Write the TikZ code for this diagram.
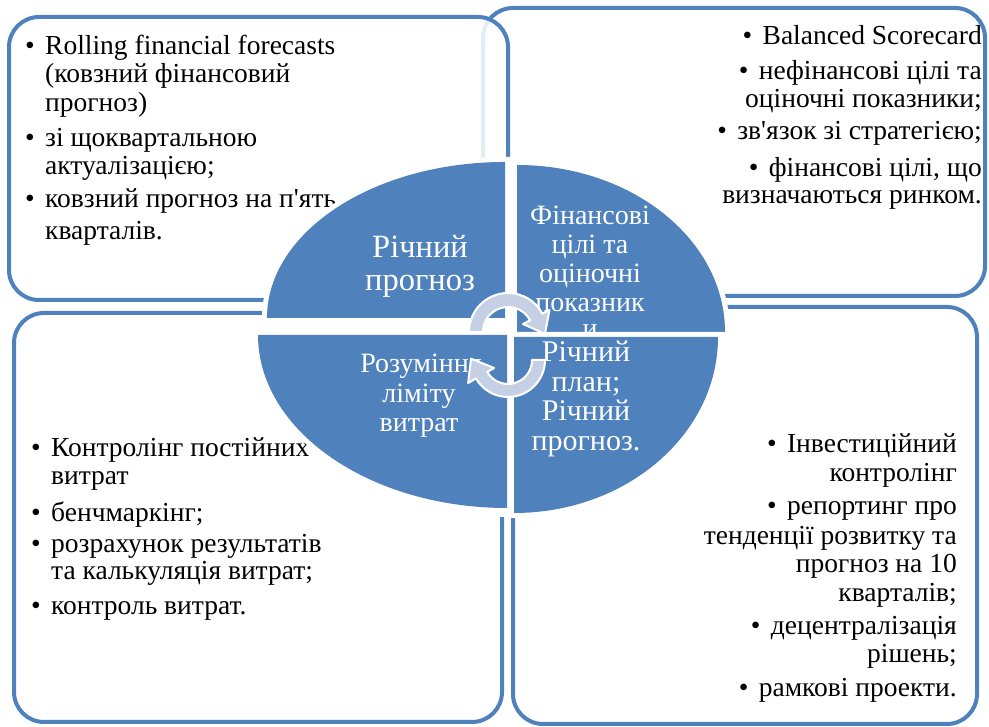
\documentclass[tikz,border=0pt]{standalone}
\usepackage{fontspec}
\setmainfont{Liberation Serif}
\newfontfamily\tnr{Liberation Serif}
\definecolor{qblue}{RGB}{79,129,189}
\definecolor{bblue}{RGB}{79,129,189}
\definecolor{arrfill}{RGB}{198,208,228}
\newcommand{\bul}{\makebox[20pt][l]{•}}
\newcommand{\apos}{\textquotesingle}
\begin{document}
\begin{tikzpicture}[x=1pt,y=1pt,
  boxs/.style={draw=bblue, line width=4pt, rounded corners=30pt, fill=white, fill opacity=0.85},
  ltxt/.style={anchor=base west, inner sep=0pt, font=\tnr\fontsize{27.5}{30}\selectfont},
  rtxt/.style={anchor=base east, inner sep=0pt, font=\tnr\fontsize{27.5}{30}\selectfont},
  qtxt/.style={anchor=base, inner sep=0pt, text=white, font=\tnr\fontsize{28}{30}\selectfont},
  qbig/.style={qtxt, font=\tnr\fontsize{32.5}{33}\selectfont},
  qmid/.style={qtxt, font=\tnr\fontsize{30}{30}\selectfont},
  quad/.style={fill=qblue, preaction={draw=white, line width=10pt, fill=white}},
  arr/.style={fill=arrfill, draw=white, line width=2pt, line join=round}]
\useasboundingbox (0,0) rectangle (989,727);
\fill[white] (0,0) rectangle (989,727);

% boxes
\draw[boxs] (483,431) rectangle (985,719);
\draw[boxs] (9,427) rectangle (508,710);
\draw[boxs] (14,5) rectangle (502,414);
\draw[boxs] (513,3) rectangle (977,420);

% top-left text
\node[ltxt] (tl1) at (25,672) {\bul Rolling financial forecasts};
\node[ltxt] (tl2) at (45,644) {(ковзний фінансовий};
\node[ltxt] (tl3) at (45,615) {прогноз)};
\node[ltxt] (tl4) at (25,580) {\bul зі щоквартальною};
\node[ltxt] (tl5) at (45,552) {актуалізацією;};
\node[ltxt] (tl6) at (25,519) {\bul ковзний прогноз на п\apos ять};
\node[ltxt] (tl7) at (45,487) {кварталів.};

% top-right text
\node[rtxt] (tr1) at (982,682) {\bul Balanced Scorecard};
\node[rtxt] (tr2) at (982,647) {\bul нефінансові цілі та};
\node[rtxt] (tr3) at (982,619) {оціночні показники;};
\node[rtxt] (tr4) at (982,587) {\bul зв\apos язок зі стратегією;};
\node[rtxt] (tr5) at (982,550) {\bul фінансові цілі, що};
\node[rtxt] (tr6) at (982,523) {визначаються ринком.};

% bottom-left text
\node[ltxt] (bl1) at (31,270) {\bul Контролінг постійних};
\node[ltxt] (bl2) at (51,242) {витрат};
\node[ltxt] (bl3) at (31,205) {\bul бенчмаркінг;};
\node[ltxt] (bl4) at (31,174) {\bul розрахунок результатів};
\node[ltxt] (bl5) at (51,147) {та калькуляція витрат;};
\node[ltxt] (bl6) at (31,112) {\bul контроль витрат.};

% bottom-right text
\node[rtxt] (br1) at (957,274) {\bul Інвестиційний};
\node[rtxt] (br2) at (957,245) {контролінг};
\node[rtxt] (br3) at (957,212) {\bul репортинг про};
\node[rtxt] (br4) at (957,182) {тенденції розвитку та};
\node[rtxt] (br5) at (957,154) {прогноз на 10};
\node[rtxt] (br6) at (957,125) {кварталів;};
\node[rtxt] (br7) at (957,92) {\bul децентралізація};
\node[rtxt] (br8) at (957,64) {рішень;};
\node[rtxt] (br9) at (957,30) {\bul рамкові проекти.};

% white gaps under the pie
\fill[white] (498,210) rectangle (524,569);
\fill[white] (262,387) rectangle (724,412);

% quadrants
\path[quad] (505,409) -- (267,409) arc[start angle=180,end angle=90,x radius=238pt,y radius=156pt] -- cycle;
\node[qbig] (q1a) at (420,469) {Річний};
\node[qbig] (q1b) at (420,436) {прогноз};

\path[quad] (517,395) -- (725,395) arc[start angle=0,end angle=90,x radius=208pt,y radius=167pt] -- cycle;
\node[qtxt] (q2a) at (590,502) {Фінансові};
\node[qtxt] (q2b) at (590,473) {цілі та};
\node[qtxt] (q2c) at (590,444) {оціночні};
\node[qtxt] (q2d) at (590,415) {показник};
\node[qtxt] (q2e) at (590,389) {и};

\path[quad] (507,392) -- (258,392) arc[start angle=180,end angle=270,x radius=249pt,y radius=173pt] -- cycle;
\node[qtxt] (q3a) at (421,354) {Розуміння};
\node[qtxt] (q3b) at (419,324) {ліміту};
\node[qtxt] (q3c) at (419,295) {витрат};

\path[quad] (514,390) -- (718,390) arc[start angle=0,end angle=-90,x radius=204pt,y radius=176pt] -- cycle;
\node[qmid] (q4a) at (586,365) {Річний};
\node[qmid] (q4b) at (586,335.5) {план;};
\node[qmid] (q4c) at (586,306) {Річний};
\node[qmid] (q4d) at (586,276.5) {прогноз.};

% circular arrows
\begin{scope}[shift={(508,395)}]
\path[arr] (180:39pt) arc[start angle=180,end angle=28,radius=39pt]
  -- (28:47pt) -- (-3:37pt) -- (28:17pt) -- (28:25pt)
  arc[start angle=28,end angle=180,radius=25pt] -- cycle;
\end{scope}
\begin{scope}[shift={(508,367)}]
\path[arr] (0:37pt) arc[start angle=0,end angle=-150,radius=37pt]
  -- (-150:46pt) -- (-182:37pt) -- (-150:16pt) -- (-150:24pt)
  arc[start angle=-150,end angle=0,radius=24pt] -- cycle;
\end{scope}
\end{tikzpicture}
\end{document}
